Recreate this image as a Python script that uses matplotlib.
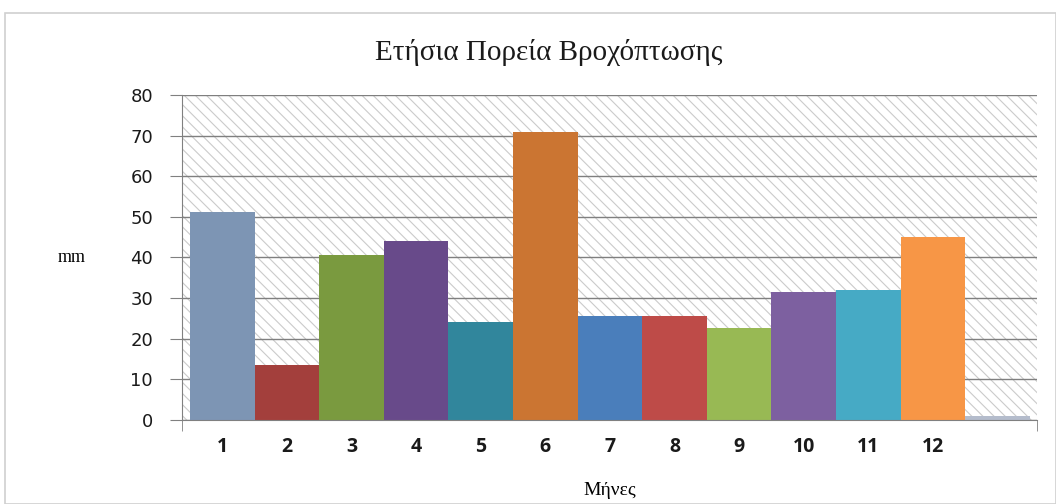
import matplotlib.pyplot as plt
from matplotlib.patches import Rectangle

# monthly rainfall (mm)
months = ['1', '2', '3', '4', '5', '6', '7', '8', '9', '10', '11', '12', '']
rain = [51.3, 13.6, 40.5, 44.0, 24.2, 70.8, 25.7, 25.6, 22.6, 31.6, 32.1, 45.0, 0.9]
colors = ['#7D95B4', '#A33F3C', '#7A9A3F', '#684A8A', '#31869C', '#CB7532',
          '#4A7EBB', '#BE4B48', '#98B954', '#7D60A0', '#46AAC5', '#F79646', '#B4BCCC']

plt.rcParams['hatch.linewidth'] = 0.8

fig = plt.figure(figsize=(10.56, 5.04), dpi=100)
ax = fig.add_axes([0.1725, 0.1667, 0.8095, 0.6448])

# outer chart frame
fig.patches.append(Rectangle((0.005, 0.0), 0.995, 0.975, transform=fig.transFigure,
                             fill=False, edgecolor='#D0D0D0', lw=1.2))

x = list(range(1, len(rain) + 1))

ax.set_xlim(0.38, 13.61)
ax.set_ylim(0, 80)

# hatched plot area
ax.add_patch(Rectangle((0, 0), 1, 1, transform=ax.transAxes, facecolor='white',
                       edgecolor='#CBCBCB', lw=0, hatch='\\\\\\', zorder=0))

ax.set_yticks(range(0, 81, 10))
ax.yaxis.grid(True, color='#7F7F7F', lw=1.0, zorder=1)
ax.set_axisbelow(True)

ax.bar(x, rain, width=1.0, color=colors, edgecolor='none', zorder=2)

for s in ['top', 'right']:
    ax.spines[s].set_visible(False)
ax.spines['left'].set_color('#808080')
ax.spines['bottom'].set_color('#808080')

ax.set_xticks(x[:12])
ax.set_xticklabels(months[:12], fontsize=14, fontweight='bold', family='Open Sans', color='#1A1A1A')
ax.tick_params(axis='x', length=0, pad=12)
ax.set_xticks([0.38, 13.61], minor=True)
ax.tick_params(axis='x', which='minor', length=8, color='#808080', direction='out')

ax.tick_params(axis='y', length=9, color='#808080', pad=12, labelsize=13, labelcolor='#1A1A1A')

fig.text(0.52, 0.895, 'Ετήσια Πορεία Βροχόπτωσης', family='Liberation Serif', fontsize=21,
         ha='center', va='center', color='#1A1A1A')
ax.set_ylabel('mm', family='Liberation Serif', fontsize=13, rotation=0, labelpad=42, va='center')
ax.set_xlabel('Μήνες', family='Liberation Serif', fontsize=14, labelpad=18)

fig.savefig('out.png', dpi=100)
